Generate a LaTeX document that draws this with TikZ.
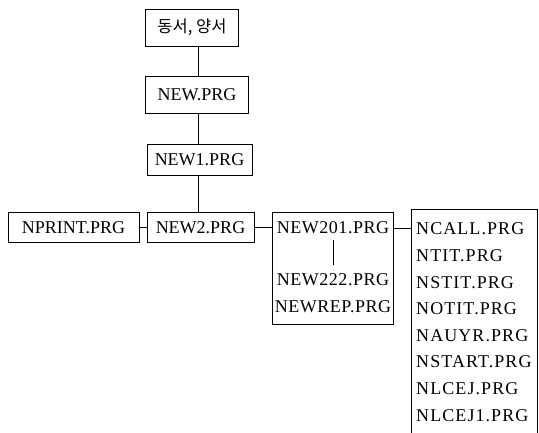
\documentclass[tikz,border=0pt]{standalone}
\usepackage{fontspec}
\setmainfont{Liberation Serif}
\newfontfamily\kor{Noto Sans CJK KR}
\newfontfamily\wideserif[LetterSpace=6]{Liberation Serif}
\newfontfamily\midserif[LetterSpace=3]{Liberation Serif}
\begin{document}
\begin{tikzpicture}[x=1pt,y=-1pt,
  box/.style={draw,line width=0.8pt,minimum height=30pt,inner sep=0pt,font=\fontsize{18}{21}\selectfont},
  lbl/.style={inner sep=0pt,font=\midserif\fontsize{18}{21}\selectfont},
  item/.style={inner sep=0pt,anchor=west,font=\wideserif\fontsize{18}{21}\selectfont},
  conn/.style={line width=0.8pt}]
\useasboundingbox (0,0) rectangle (539,433);
\coordinate (tr) at (198,0);
\node[box,minimum width=93pt,minimum height=37pt,font=\kor\fontsize{16.5}{19}\selectfont] (k) at (192,27.5) {동서, 양서};
\node[box,minimum width=103pt,minimum height=37pt] (n0) at (197,95) {NEW.PRG};
\node[box,minimum width=105pt,minimum height=31pt] (n1) at (199.5,159.5) {NEW1.PRG};
\node[box,minimum width=131pt] (np) at (73.5,227.5) {NPRINT.PRG};
\node[box,minimum width=107pt] (n2) at (200.5,227.5) {NEW2.PRG};
\node[box,minimum width=121pt,minimum height=112pt] (sub) at (333,268.5) {};
\node[lbl] (t1) at (333,228) {NEW201.PRG};
\node[lbl] (t2) at (333,280) {NEW222.PRG};
\node[lbl] (t3) at (333,307) {NEWREP.PRG};
\node[inner sep=0pt,minimum width=125pt,minimum height=228pt] (rb) at (474.5,324) {};
\draw[conn] (rb.south west) -- (rb.north west) -- (rb.north east) -- (rb.south east);
\foreach \t [count=\i from 0] in {NCALL.PRG,NTIT.PRG,NSTIT.PRG,NOTIT.PRG,NAUYR.PRG,NSTART.PRG,NLCEJ.PRG,NLCEJ1.PRG}
  \node[item] (r\i) at (416,229+26.6*\i) {\t};
\draw[conn] (k.south -| tr) -- (n0.north -| tr);
\draw[conn] (n0.south -| tr) -- (n1.north -| tr);
\draw[conn] (n1.south -| tr) -- (n2.north -| tr);
\draw[conn] (np.east) -- (n2.west);
\draw[conn] (n2.east) -- (n2.east -| sub.west);
\draw[conn] ([yshift=-6pt]t1.south) -- ([yshift=9pt]t2.north);
\draw[conn] (t1.east -| sub.east) -- (t1.east -| rb.west);
\end{tikzpicture}
\end{document}
